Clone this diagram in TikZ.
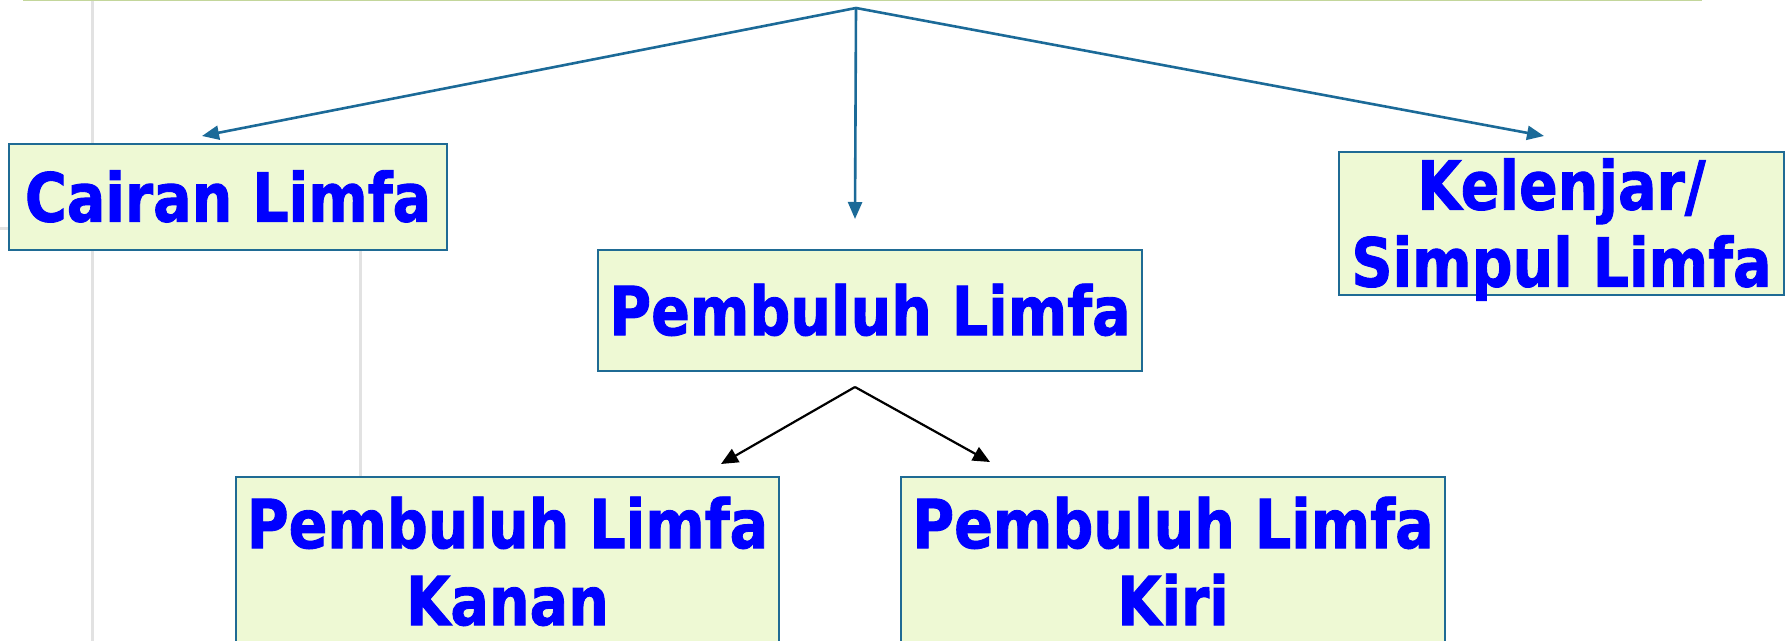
\documentclass[tikz,border=0pt]{standalone}
\usepackage{fontspec}
\usetikzlibrary{arrows.meta}
\newfontfamily\boxfont[FakeStretch=0.845,FakeBold=1.3]{DejaVu Sans}
\definecolor{arrowteal}{HTML}{1B6A98}
\definecolor{boxborder}{HTML}{1F6B94}
\definecolor{boxfill}{HTML}{EEF9D4}
\definecolor{topgreen}{HTML}{C3D69B}
\definecolor{gridgray}{HTML}{E2E2E2}
\definecolor{textblue}{HTML}{0000FF}
\tikzset{
  box/.style={draw=boxborder, line width=1pt, fill=boxfill, inner sep=0pt,
    text=textblue, align=center,
    font=\boxfont\bfseries\fontsize{33.8pt}{38.5pt}\selectfont,
    text height=24.6pt, text depth=0pt},
  twoline/.style={text height=63.1pt, text depth=0pt},
  toparrow/.style={draw=arrowteal, line width=1.3pt, -{Triangle[length=8.5pt,width=7pt]}},
  subarrow/.style={draw=black, line width=1.1pt, -{Triangle[length=8.5pt,width=7.5pt]}},
  gridline/.style={draw=gridgray, line width=1.5pt}
}
\begin{document}
\begin{tikzpicture}[x=0.5pt, y=-0.5pt]
  \useasboundingbox (0,0) rectangle (1789,641);
  % background slide lines
  \draw[gridline] (92,0) -- (92,641);
  \draw[gridline] (360,250) -- (360,477);
  \draw[gridline] (0,229) -- (9,229);
  \draw[topgreen, line width=1pt] (23,0.5) -- (1702,0.5);
  % boxes
  \node[box, minimum width=219pt, minimum height=53pt] (cairan) at (228,197) {Cairan Limfa};
  \node[box, twoline, minimum width=222.5pt, minimum height=71.5pt] (kelenjar) at (1561.5,223.5) {Kelenjar/\\Simpul Limfa};
  \node[box, minimum width=272pt, minimum height=60.5pt] (pembuluh) at (870,310.5) {Pembuluh Limfa};
  \node[box, twoline, minimum width=271.5pt, minimum height=85pt] (kanan) at (507.5,562) {Pembuluh Limfa\\Kanan};
  \node[box, twoline, minimum width=272pt, minimum height=85pt] (kiri) at (1173,562) {Pembuluh Limfa\\Kiri};
  % connector coordinates
  \coordinate (apex) at (856,8);
  \coordinate (tcairan) at (202,136);
  \coordinate (tpembuluh) at (855,219);
  \coordinate (tkelenjar) at (1544,136);
  \coordinate (subapex) at (855,387);
  \coordinate (tkanan) at (721,464);
  \coordinate (tkiri) at (990,462);
  % connectors
  \draw[toparrow] (apex) -- (tcairan);
  \draw[toparrow] (apex) -- (tpembuluh);
  \draw[toparrow] (apex) -- (tkelenjar);
  \draw[subarrow] (subapex) -- (tkanan);
  \draw[subarrow] (subapex) -- (tkiri);
\end{tikzpicture}
\end{document}
